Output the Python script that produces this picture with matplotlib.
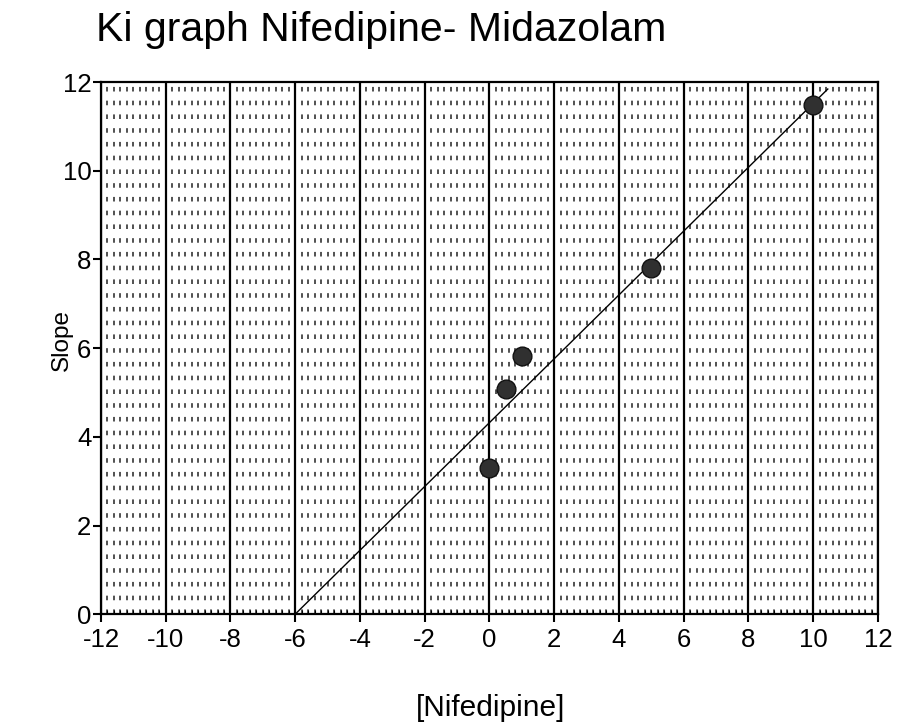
"""
Ki graph: slope vs nifedipine concentration, with linear fit.
"""
import numpy as np
import matplotlib
matplotlib.use("Agg")
import matplotlib.pyplot as plt
from matplotlib.ticker import MultipleLocator

plt.rcParams['font.family'] = ['Liberation Sans', 'DejaVu Sans']

# data
nifedipine = [0.0, 0.5, 1.0, 5.0, 10.0]
slope = [3.3, 5.07, 5.83, 7.8, 11.48]
fit_x_end = 10.45          # right end of the drawn fit line

x_ticks = [-12, -10, -8, -6, -4, -2, 0, 2, 4, 6, 8, 10, 12]
y_ticks = [0, 2, 4, 6, 8, 10, 12]

# linear regression; line drawn from the x-intercept to fit_x_end
m, b = np.polyfit(nifedipine, slope, 1)
fit_x = np.array([-b / m, fit_x_end])
fit_y = m * fit_x + b

fig = plt.figure(figsize=(8.97, 7.26), dpi=100)
ax = fig.add_axes([0.1126, 0.154, 0.8662, 0.733])

ax.set_xlim(-12, 12)
ax.set_ylim(0, 12)
ax.set_xticks(x_ticks)
ax.set_yticks(y_ticks)
ax.xaxis.set_minor_locator(MultipleLocator(0.2))

# dashed minor verticals, solid majors
ax.grid(True, which='minor', axis='x', color='#222222', lw=1.1,
        linestyle=(0, (3, 6)))
ax.grid(True, which='major', axis='x', color='black', lw=1.6)
ax.set_axisbelow(True)

ax.plot(fit_x, fit_y, color='black', lw=1.0, zorder=3)
ax.plot(nifedipine, slope, 'o', color='#303030', mec='#111111',
        markersize=13.5, zorder=4)

for s in ax.spines.values():
    s.set_linewidth(1.6)

ax.tick_params(axis='both', which='major', labelsize=18.5, direction='out',
               length=6, width=1.5, pad=1)
ax.tick_params(axis='x', which='major', pad=4)
ax.tick_params(axis='x', which='minor', direction='in', length=3, width=0.8)
ax.set_xticklabels([str(t) for t in x_ticks])
ax.set_yticklabels([str(t) for t in y_ticks])

fig.text(96 / 897, 1 - 41 / 726, "Ki graph Nifedipine- Midazolam",
         fontsize=29.5, ha='left', va='baseline')
fig.text(62 / 897, 1 - 340 / 726, "Slope", fontsize=17.5,
         rotation=90, ha='center', va='center')
fig.text(491 / 897, 1 - 708 / 726, "[Nifedipine]", fontsize=21.5,
         ha='center', va='center')

fig.savefig("out.png", dpi=100)
